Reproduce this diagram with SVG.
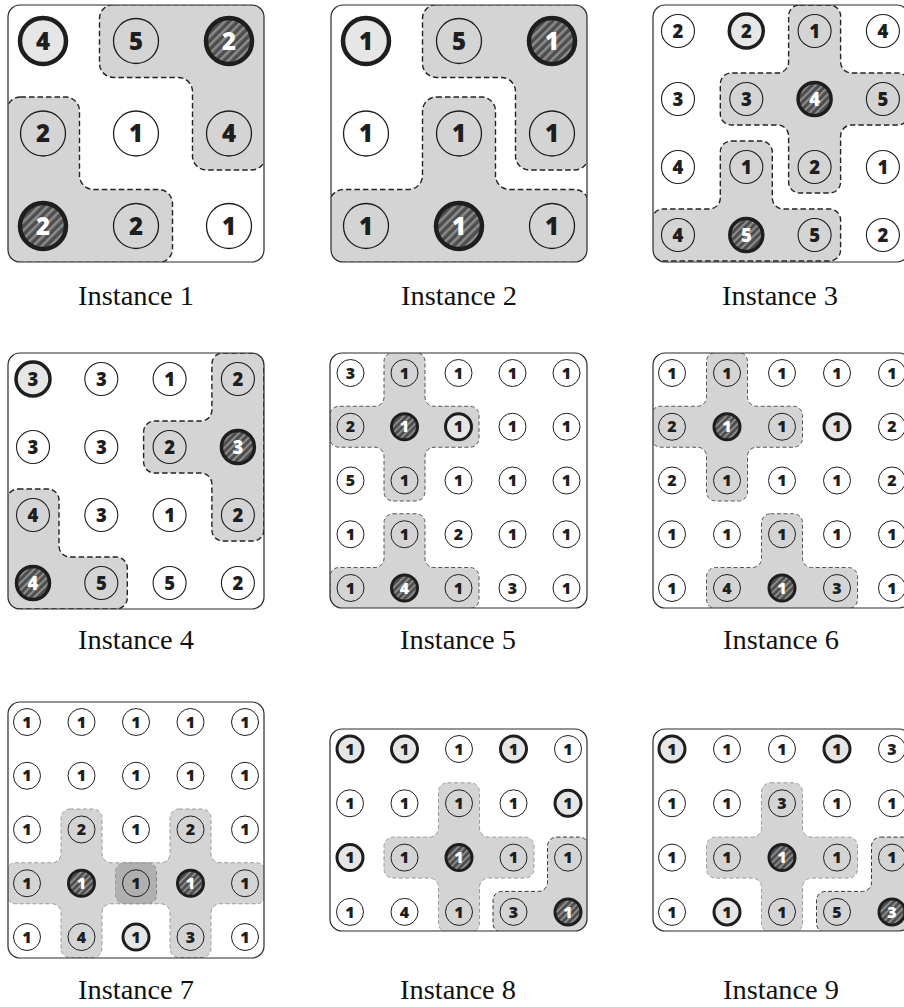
<svg xmlns="http://www.w3.org/2000/svg" width="904" height="1007" viewBox="0 0 904 1007">
<style>
.fr{fill:none;stroke:#2a2a2a;stroke-width:1.2}
.rg{fill:#000;fill-opacity:.17;stroke:#222;stroke-width:1.4;stroke-dasharray:5.5 3}
.rg5{stroke:#555;stroke-width:1;stroke-dasharray:4 2.5}
.rgl{stroke:#9a9a9a}
.rgd{stroke:#333}
circle.n{fill:none;stroke:#1e1e1e}
circle.b{fill:#e6e6e6;stroke:#1e1e1e}
circle.h{stroke:#1e1e1e}
.s3 circle.n{stroke-width:1.3}
.s3 circle.b,.s3 circle.h{stroke-width:4.5}
.s3 circle.h{fill:url(#hL)}
.s4 circle.n{stroke-width:1.1}
.s4 circle.b,.s4 circle.h{stroke-width:3.5}
.s4 circle.h{fill:url(#hM)}
.s5 circle.n{stroke-width:1}
.s5 circle.b,.s5 circle.h{stroke-width:3}
.s5 circle.h{fill:url(#hS)}
.s3 text,.s4 text,.s5 text{font-family:"Open Sans","Liberation Sans",sans-serif;font-weight:800;text-anchor:middle;fill:#1e1e1e}
.s3 text{font-size:24px}
.s4 text{font-size:18.5px}
.s5 text{font-size:16px}
.s3 text.w,.s4 text.w,.s5 text.w{fill:#fff}
.lbl{font-family:"Liberation Serif","DejaVu Serif",serif;font-size:27px;fill:#111;text-anchor:middle}
</style>
<defs>
<pattern id="hL" width="6" height="6" patternUnits="userSpaceOnUse" patternTransform="rotate(45)"><rect width="6" height="6" fill="#4e4e4e"/><rect width="2.5" height="6" fill="#8c8c8c"/></pattern>
<pattern id="hM" width="5" height="5" patternUnits="userSpaceOnUse" patternTransform="rotate(45)"><rect width="5" height="5" fill="#4e4e4e"/><rect width="2" height="5" fill="#8c8c8c"/></pattern>
<pattern id="hS" width="4.5" height="4.5" patternUnits="userSpaceOnUse" patternTransform="rotate(45)"><rect width="4.5" height="4.5" fill="#4e4e4e"/><rect width="1.8" height="4.5" fill="#8c8c8c"/></pattern>
<clipPath id="c1"><rect x="8" y="5" width="256" height="257" rx="12"/></clipPath>
<clipPath id="c2"><rect x="331" y="5" width="256" height="257" rx="12"/></clipPath>
<clipPath id="c3"><rect x="653" y="5" width="256" height="257" rx="12"/></clipPath>
<clipPath id="c4"><rect x="8" y="353" width="256" height="256" rx="12"/></clipPath>
<clipPath id="c5"><rect x="330" y="353" width="257" height="255" rx="12"/></clipPath>
<clipPath id="c6"><rect x="653" y="353" width="258" height="255" rx="12"/></clipPath>
<clipPath id="c7"><rect x="8" y="702" width="256" height="256" rx="12"/></clipPath>
<clipPath id="c8"><rect x="330" y="729" width="257" height="202" rx="12"/></clipPath>
<clipPath id="c9"><rect x="653" y="729" width="258" height="202" rx="12"/></clipPath>
</defs>
<rect width="904" height="1007" fill="#fff"/>

<!-- Instance 1 -->
<g id="inst1" class="s3">
<g id="inst1-regions" clip-path="url(#c1)">
<path class="rg" d="M113.5,4.5 h138 a14,14 0 0 1 14,14 v137.5 a14,14 0 0 1 -14,14 h-45 a14,14 0 0 1 -14,-14 v-64.5 a14,14 0 0 0 -14,-14 h-65 a14,14 0 0 1 -14,-14 v-45 a14,14 0 0 1 14,-14 z"/>
<path class="rg" d="M20.5,97 h45 a14,14 0 0 1 14,14 v64.5 a14,14 0 0 0 14,14 h65 a14,14 0 0 1 14,14 v45 a14,14 0 0 1 -14,14 h-138 a14,14 0 0 1 -14,-14 v-137.5 a14,14 0 0 1 14,-14 z"/>
</g>
<rect class="fr" x="8" y="5" width="256" height="257" rx="12"/>
<g id="i1n00" transform="translate(43,41)"><circle class="b" r="23"/><text y="8.6">4</text></g>
<g id="i1n01" transform="translate(136,41)"><circle class="n" r="22.5"/><text y="8.6">5</text></g>
<g id="i1n02" transform="translate(229,41)"><circle class="h" r="23"/><text class="w" y="8.6">2</text></g>
<g id="i1n10" transform="translate(43,133.5)"><circle class="n" r="22.5"/><text y="8.6">2</text></g>
<g id="i1n11" transform="translate(136,133.5)"><circle class="n" r="22.5"/><text y="8.6">1</text></g>
<g id="i1n12" transform="translate(229,133.5)"><circle class="n" r="22.5"/><text y="8.6">4</text></g>
<g id="i1n20" transform="translate(43,226)"><circle class="h" r="23"/><text class="w" y="8.6">2</text></g>
<g id="i1n21" transform="translate(136,226)"><circle class="n" r="22.5"/><text y="8.6">2</text></g>
<g id="i1n22" transform="translate(229,226)"><circle class="n" r="22.5"/><text y="8.6">1</text></g>
</g>
<text class="lbl" x="136" y="305" textLength="116" lengthAdjust="spacingAndGlyphs">Instance 1</text>

<!-- Instance 2 -->
<g id="inst2" class="s3">
<g id="inst2-regions" clip-path="url(#c2)">
<path class="rg" d="M436.5,4.5 h138 a14,14 0 0 1 14,14 v137.5 a14,14 0 0 1 -14,14 h-45 a14,14 0 0 1 -14,-14 v-64.5 a14,14 0 0 0 -14,-14 h-65 a14,14 0 0 1 -14,-14 v-45 a14,14 0 0 1 14,-14 z"/>
<path class="rg" d="M436.5,97 h45 a14,14 0 0 1 14,14 v64.5 a14,14 0 0 0 14,14 h65 a14,14 0 0 1 14,14 v45 a14,14 0 0 1 -14,14 h-231 a14,14 0 0 1 -14,-14 v-45 a14,14 0 0 1 14,-14 h65 a14,14 0 0 0 14,-14 v-64.5 a14,14 0 0 1 14,-14 z"/>
</g>
<rect class="fr" x="331" y="5" width="256" height="257" rx="12"/>
<g id="i2n00" transform="translate(366,41)"><circle class="b" r="23"/><text y="8.6">1</text></g>
<g id="i2n01" transform="translate(459,41)"><circle class="n" r="22.5"/><text y="8.6">5</text></g>
<g id="i2n02" transform="translate(552,41)"><circle class="h" r="23"/><text class="w" y="8.6">1</text></g>
<g id="i2n10" transform="translate(366,133.5)"><circle class="n" r="22.5"/><text y="8.6">1</text></g>
<g id="i2n11" transform="translate(459,133.5)"><circle class="n" r="22.5"/><text y="8.6">1</text></g>
<g id="i2n12" transform="translate(552,133.5)"><circle class="n" r="22.5"/><text y="8.6">1</text></g>
<g id="i2n20" transform="translate(366,226)"><circle class="n" r="22.5"/><text y="8.6">1</text></g>
<g id="i2n21" transform="translate(459,226)"><circle class="h" r="23"/><text class="w" y="8.6">1</text></g>
<g id="i2n22" transform="translate(552,226)"><circle class="n" r="22.5"/><text y="8.6">1</text></g>
</g>
<text class="lbl" x="459" y="305" textLength="116" lengthAdjust="spacingAndGlyphs">Instance 2</text>

<!-- Instance 3 -->
<g id="inst3" class="s4">
<g id="inst3-regions" clip-path="url(#c3)">
<path class="rg" d="M799.6,5 h30 a11,11 0 0 1 11,11 v46 a11,11 0 0 0 11,11 h46.3 a11,11 0 0 1 11,11 v30 a11,11 0 0 1 -11,11 h-46.3 a11,11 0 0 0 -11,11 v46 a11,11 0 0 1 -11,11 h-30 a11,11 0 0 1 -11,-11 v-46 a11,11 0 0 0 -11,-11 h-46.3 a11,11 0 0 1 -11,-11 v-30 a11,11 0 0 1 11,-11 h46.3 a11,11 0 0 0 11,-11 v-46 a11,11 0 0 1 11,-11 z"/>
<path class="rg" d="M731.3,141 h30 a11,11 0 0 1 11,11 v46 a11,11 0 0 0 11,11 h46.3 a11,11 0 0 1 11,11 v30 a11,11 0 0 1 -11,11 h-166.6 a11,11 0 0 1 -11,-11 v-30 a11,11 0 0 1 11,-11 h46.3 a11,11 0 0 0 11,-11 v-46 a11,11 0 0 1 11,-11 z"/>
</g>
<rect class="fr" x="653" y="5" width="256" height="257" rx="12"/>
<g id="i3n00" transform="translate(678,31)"><circle class="n" r="16.5"/><text y="6.6">2</text></g>
<g id="i3n01" transform="translate(746.3,31)"><circle class="b" r="17"/><text y="6.6">2</text></g>
<g id="i3n02" transform="translate(814.6,31)"><circle class="n" r="16.5"/><text y="6.6">1</text></g>
<g id="i3n03" transform="translate(882.9,31)"><circle class="n" r="16.5"/><text y="6.6">4</text></g>
<g id="i3n10" transform="translate(678,99)"><circle class="n" r="16.5"/><text y="6.6">3</text></g>
<g id="i3n11" transform="translate(746.3,99)"><circle class="n" r="16.5"/><text y="6.6">3</text></g>
<g id="i3n12" transform="translate(814.6,99)"><circle class="h" r="16.5"/><text class="w" y="6.6">4</text></g>
<g id="i3n13" transform="translate(882.9,99)"><circle class="n" r="16.5"/><text y="6.6">5</text></g>
<g id="i3n20" transform="translate(678,167)"><circle class="n" r="16.5"/><text y="6.6">4</text></g>
<g id="i3n21" transform="translate(746.3,167)"><circle class="n" r="16.5"/><text y="6.6">1</text></g>
<g id="i3n22" transform="translate(814.6,167)"><circle class="n" r="16.5"/><text y="6.6">2</text></g>
<g id="i3n23" transform="translate(882.9,167)"><circle class="n" r="16.5"/><text y="6.6">1</text></g>
<g id="i3n30" transform="translate(678,235)"><circle class="n" r="16.5"/><text y="6.6">4</text></g>
<g id="i3n31" transform="translate(746.3,235)"><circle class="h" r="16.5"/><text class="w" y="6.6">5</text></g>
<g id="i3n32" transform="translate(814.6,235)"><circle class="n" r="16.5"/><text y="6.6">5</text></g>
<g id="i3n33" transform="translate(882.9,235)"><circle class="n" r="16.5"/><text y="6.6">2</text></g>
</g>
<text class="lbl" x="780" y="305" textLength="116" lengthAdjust="spacingAndGlyphs">Instance 3</text>

<!-- Instance 4 -->
<g id="inst4" class="s4">
<g id="inst4-regions" clip-path="url(#c4)">
<path class="rg" d="M222.9,353 h30 a11,11 0 0 1 11,11 v166 a11,11 0 0 1 -11,11 h-30 a11,11 0 0 1 -11,-11 v-46 a11,11 0 0 0 -11,-11 h-46.3 a11,11 0 0 1 -11,-11 v-30 a11,11 0 0 1 11,-11 h46.3 a11,11 0 0 0 11,-11 v-46 a11,11 0 0 1 11,-11 z"/>
<path class="rg" d="M18,489 h30 a11,11 0 0 1 11,11 v46 a11,11 0 0 0 11,11 h46.3 a11,11 0 0 1 11,11 v30 a11,11 0 0 1 -11,11 h-98.3 a11,11 0 0 1 -11,-11 v-98 a11,11 0 0 1 11,-11 z"/>
</g>
<rect class="fr" x="8" y="353" width="256" height="256" rx="12"/>
<g id="i4n00" transform="translate(33,379)"><circle class="b" r="17"/><text y="6.6">3</text></g>
<g id="i4n01" transform="translate(101.3,379)"><circle class="n" r="16.5"/><text y="6.6">3</text></g>
<g id="i4n02" transform="translate(169.6,379)"><circle class="n" r="16.5"/><text y="6.6">1</text></g>
<g id="i4n03" transform="translate(237.9,379)"><circle class="n" r="16.5"/><text y="6.6">2</text></g>
<g id="i4n10" transform="translate(33,447)"><circle class="n" r="16.5"/><text y="6.6">3</text></g>
<g id="i4n11" transform="translate(101.3,447)"><circle class="n" r="16.5"/><text y="6.6">3</text></g>
<g id="i4n12" transform="translate(169.6,447)"><circle class="n" r="16.5"/><text y="6.6">2</text></g>
<g id="i4n13" transform="translate(237.9,447)"><circle class="h" r="16.5"/><text class="w" y="6.6">3</text></g>
<g id="i4n20" transform="translate(33,515)"><circle class="n" r="16.5"/><text y="6.6">4</text></g>
<g id="i4n21" transform="translate(101.3,515)"><circle class="n" r="16.5"/><text y="6.6">3</text></g>
<g id="i4n22" transform="translate(169.6,515)"><circle class="n" r="16.5"/><text y="6.6">1</text></g>
<g id="i4n23" transform="translate(237.9,515)"><circle class="n" r="16.5"/><text y="6.6">2</text></g>
<g id="i4n30" transform="translate(33,583)"><circle class="h" r="16.5"/><text class="w" y="6.6">4</text></g>
<g id="i4n31" transform="translate(101.3,583)"><circle class="n" r="16.5"/><text y="6.6">5</text></g>
<g id="i4n32" transform="translate(169.6,583)"><circle class="n" r="16.5"/><text y="6.6">5</text></g>
<g id="i4n33" transform="translate(237.9,583)"><circle class="n" r="16.5"/><text y="6.6">2</text></g>
</g>
<text class="lbl" x="136" y="649" textLength="116" lengthAdjust="spacingAndGlyphs">Instance 4</text>

<!-- Instance 5 -->
<g id="inst5" class="s5">
<g id="inst5-regions" clip-path="url(#c5)">
<path class="rg rg5" d="M393,352.5 h23 a9,9 0 0 1 9,9 v35.75 a9,9 0 0 0 9,9 h36 a9,9 0 0 1 9,9 v23 a9,9 0 0 1 -9,9 h-36 a9,9 0 0 0 -9,9 v35.75 a9,9 0 0 1 -9,9 h-23 a9,9 0 0 1 -9,-9 v-35.75 a9,9 0 0 0 -9,-9 h-36 a9,9 0 0 1 -9,-9 v-23 a9,9 0 0 1 9,-9 h36 a9,9 0 0 0 9,-9 v-35.75 a9,9 0 0 1 9,-9 z"/>
<path class="rg rg5" d="M393,513.75 h23 a9,9 0 0 1 9,9 v35.75 a9,9 0 0 0 9,9 h36 a9,9 0 0 1 9,9 v23 a9,9 0 0 1 -9,9 h-131 a9,9 0 0 1 -9,-9 v-23 a9,9 0 0 1 9,-9 h36 a9,9 0 0 0 9,-9 v-35.75 a9,9 0 0 1 9,-9 z"/>
</g>
<rect class="fr" x="330" y="353" width="257" height="255" rx="12"/>
<g id="i5n00" transform="translate(350.5,373)"><circle class="n" r="13.5"/><text y="5.7">3</text></g>
<g id="i5n01" transform="translate(404.5,373)"><circle class="n" r="13.5"/><text y="5.7">1</text></g>
<g id="i5n02" transform="translate(458.5,373)"><circle class="n" r="13.5"/><text y="5.7">1</text></g>
<g id="i5n03" transform="translate(512.5,373)"><circle class="n" r="13.5"/><text y="5.7">1</text></g>
<g id="i5n04" transform="translate(566.5,373)"><circle class="n" r="13.5"/><text y="5.7">1</text></g>
<g id="i5n10" transform="translate(350.5,426.75)"><circle class="n" r="13.5"/><text y="5.7">2</text></g>
<g id="i5n11" transform="translate(404.5,426.75)"><circle class="h" r="13"/><text class="w" y="5.7">1</text></g>
<g id="i5n12" transform="translate(458.5,426.75)"><circle class="b" r="13"/><text y="5.7">1</text></g>
<g id="i5n13" transform="translate(512.5,426.75)"><circle class="n" r="13.5"/><text y="5.7">1</text></g>
<g id="i5n14" transform="translate(566.5,426.75)"><circle class="n" r="13.5"/><text y="5.7">1</text></g>
<g id="i5n20" transform="translate(350.5,480.5)"><circle class="n" r="13.5"/><text y="5.7">5</text></g>
<g id="i5n21" transform="translate(404.5,480.5)"><circle class="n" r="13.5"/><text y="5.7">1</text></g>
<g id="i5n22" transform="translate(458.5,480.5)"><circle class="n" r="13.5"/><text y="5.7">1</text></g>
<g id="i5n23" transform="translate(512.5,480.5)"><circle class="n" r="13.5"/><text y="5.7">1</text></g>
<g id="i5n24" transform="translate(566.5,480.5)"><circle class="n" r="13.5"/><text y="5.7">1</text></g>
<g id="i5n30" transform="translate(350.5,534.25)"><circle class="n" r="13.5"/><text y="5.7">1</text></g>
<g id="i5n31" transform="translate(404.5,534.25)"><circle class="n" r="13.5"/><text y="5.7">1</text></g>
<g id="i5n32" transform="translate(458.5,534.25)"><circle class="n" r="13.5"/><text y="5.7">2</text></g>
<g id="i5n33" transform="translate(512.5,534.25)"><circle class="n" r="13.5"/><text y="5.7">1</text></g>
<g id="i5n34" transform="translate(566.5,534.25)"><circle class="n" r="13.5"/><text y="5.7">1</text></g>
<g id="i5n40" transform="translate(350.5,588)"><circle class="n" r="13.5"/><text y="5.7">1</text></g>
<g id="i5n41" transform="translate(404.5,588)"><circle class="h" r="13"/><text class="w" y="5.7">4</text></g>
<g id="i5n42" transform="translate(458.5,588)"><circle class="n" r="13.5"/><text y="5.7">1</text></g>
<g id="i5n43" transform="translate(512.5,588)"><circle class="n" r="13.5"/><text y="5.7">3</text></g>
<g id="i5n44" transform="translate(566.5,588)"><circle class="n" r="13.5"/><text y="5.7">1</text></g>
</g>
<text class="lbl" x="458" y="649" textLength="116" lengthAdjust="spacingAndGlyphs">Instance 5</text>

<!-- Instance 6 -->
<g id="inst6" class="s5">
<g id="inst6-regions" clip-path="url(#c6)">
<path class="rg rg5" d="M715.5,352.5 h23 a9,9 0 0 1 9,9 v35.75 a9,9 0 0 0 9,9 h37 a9,9 0 0 1 9,9 v23 a9,9 0 0 1 -9,9 h-37 a9,9 0 0 0 -9,9 v35.75 a9,9 0 0 1 -9,9 h-23 a9,9 0 0 1 -9,-9 v-35.75 a9,9 0 0 0 -9,-9 h-37 a9,9 0 0 1 -9,-9 v-23 a9,9 0 0 1 9,-9 h37 a9,9 0 0 0 9,-9 v-35.75 a9,9 0 0 1 9,-9 z"/>
<path class="rg rg5" d="M770.5,513.75 h23 a9,9 0 0 1 9,9 v35.75 a9,9 0 0 0 9,9 h37 a9,9 0 0 1 9,9 v23 a9,9 0 0 1 -9,9 h-133 a9,9 0 0 1 -9,-9 v-23 a9,9 0 0 1 9,-9 h37 a9,9 0 0 0 9,-9 v-35.75 a9,9 0 0 1 9,-9 z"/>
</g>
<rect class="fr" x="653" y="353" width="258" height="255" rx="12"/>
<g id="i6n00" transform="translate(672,373)"><circle class="n" r="13.5"/><text y="5.7">1</text></g>
<g id="i6n01" transform="translate(727,373)"><circle class="n" r="13.5"/><text y="5.7">1</text></g>
<g id="i6n02" transform="translate(782,373)"><circle class="n" r="13.5"/><text y="5.7">1</text></g>
<g id="i6n03" transform="translate(837,373)"><circle class="n" r="13.5"/><text y="5.7">1</text></g>
<g id="i6n04" transform="translate(892,373)"><circle class="n" r="13.5"/><text y="5.7">1</text></g>
<g id="i6n10" transform="translate(672,426.75)"><circle class="n" r="13.5"/><text y="5.7">2</text></g>
<g id="i6n11" transform="translate(727,426.75)"><circle class="h" r="13"/><text class="w" y="5.7">1</text></g>
<g id="i6n12" transform="translate(782,426.75)"><circle class="n" r="13.5"/><text y="5.7">1</text></g>
<g id="i6n13" transform="translate(837,426.75)"><circle class="b" r="13"/><text y="5.7">1</text></g>
<g id="i6n14" transform="translate(892,426.75)"><circle class="n" r="13.5"/><text y="5.7">2</text></g>
<g id="i6n20" transform="translate(672,480.5)"><circle class="n" r="13.5"/><text y="5.7">2</text></g>
<g id="i6n21" transform="translate(727,480.5)"><circle class="n" r="13.5"/><text y="5.7">1</text></g>
<g id="i6n22" transform="translate(782,480.5)"><circle class="n" r="13.5"/><text y="5.7">1</text></g>
<g id="i6n23" transform="translate(837,480.5)"><circle class="n" r="13.5"/><text y="5.7">1</text></g>
<g id="i6n24" transform="translate(892,480.5)"><circle class="n" r="13.5"/><text y="5.7">2</text></g>
<g id="i6n30" transform="translate(672,534.25)"><circle class="n" r="13.5"/><text y="5.7">1</text></g>
<g id="i6n31" transform="translate(727,534.25)"><circle class="n" r="13.5"/><text y="5.7">1</text></g>
<g id="i6n32" transform="translate(782,534.25)"><circle class="n" r="13.5"/><text y="5.7">1</text></g>
<g id="i6n33" transform="translate(837,534.25)"><circle class="n" r="13.5"/><text y="5.7">1</text></g>
<g id="i6n34" transform="translate(892,534.25)"><circle class="n" r="13.5"/><text y="5.7">1</text></g>
<g id="i6n40" transform="translate(672,588)"><circle class="n" r="13.5"/><text y="5.7">1</text></g>
<g id="i6n41" transform="translate(727,588)"><circle class="n" r="13.5"/><text y="5.7">4</text></g>
<g id="i6n42" transform="translate(782,588)"><circle class="h" r="13"/><text class="w" y="5.7">1</text></g>
<g id="i6n43" transform="translate(837,588)"><circle class="n" r="13.5"/><text y="5.7">3</text></g>
<g id="i6n44" transform="translate(892,588)"><circle class="n" r="13.5"/><text y="5.7">1</text></g>
</g>
<text class="lbl" x="781" y="649" textLength="116" lengthAdjust="spacingAndGlyphs">Instance 6</text>

<!-- Instance 7 -->
<g id="inst7" class="s5">
<g id="inst7-regions" clip-path="url(#c7)">
<path class="rg rg5 rgl" d="M70,809 h23 a9,9 0 0 1 9,9 v35.75 a9,9 0 0 0 9,9 h36.5 a9,9 0 0 1 9,9 v23 a9,9 0 0 1 -9,9 h-36.5 a9,9 0 0 0 -9,9 v35.75 a9,9 0 0 1 -9,9 h-23 a9,9 0 0 1 -9,-9 v-35.75 a9,9 0 0 0 -9,-9 h-36.5 a9,9 0 0 1 -9,-9 v-23 a9,9 0 0 1 9,-9 h36.5 a9,9 0 0 0 9,-9 v-35.75 a9,9 0 0 1 9,-9 z"/>
<path class="rg rg5 rgl" d="M179,809 h23 a9,9 0 0 1 9,9 v35.75 a9,9 0 0 0 9,9 h36.5 a9,9 0 0 1 9,9 v23 a9,9 0 0 1 -9,9 h-36.5 a9,9 0 0 0 -9,9 v35.75 a9,9 0 0 1 -9,9 h-23 a9,9 0 0 1 -9,-9 v-35.75 a9,9 0 0 0 -9,-9 h-36.5 a9,9 0 0 1 -9,-9 v-23 a9,9 0 0 1 9,-9 h36.5 a9,9 0 0 0 9,-9 v-35.75 a9,9 0 0 1 9,-9 z"/>
</g>
<rect class="fr" x="8" y="702" width="256" height="256" rx="12"/>
<g id="i7n00" transform="translate(27,722)"><circle class="n" r="13.5"/><text y="5.7">1</text></g>
<g id="i7n01" transform="translate(81.5,722)"><circle class="n" r="13.5"/><text y="5.7">1</text></g>
<g id="i7n02" transform="translate(136,722)"><circle class="n" r="13.5"/><text y="5.7">1</text></g>
<g id="i7n03" transform="translate(190.5,722)"><circle class="n" r="13.5"/><text y="5.7">1</text></g>
<g id="i7n04" transform="translate(245,722)"><circle class="n" r="13.5"/><text y="5.7">1</text></g>
<g id="i7n10" transform="translate(27,775.75)"><circle class="n" r="13.5"/><text y="5.7">1</text></g>
<g id="i7n11" transform="translate(81.5,775.75)"><circle class="n" r="13.5"/><text y="5.7">1</text></g>
<g id="i7n12" transform="translate(136,775.75)"><circle class="n" r="13.5"/><text y="5.7">1</text></g>
<g id="i7n13" transform="translate(190.5,775.75)"><circle class="n" r="13.5"/><text y="5.7">1</text></g>
<g id="i7n14" transform="translate(245,775.75)"><circle class="n" r="13.5"/><text y="5.7">1</text></g>
<g id="i7n20" transform="translate(27,829.5)"><circle class="n" r="13.5"/><text y="5.7">1</text></g>
<g id="i7n21" transform="translate(81.5,829.5)"><circle class="n" r="13.5"/><text y="5.7">2</text></g>
<g id="i7n22" transform="translate(136,829.5)"><circle class="n" r="13.5"/><text y="5.7">1</text></g>
<g id="i7n23" transform="translate(190.5,829.5)"><circle class="n" r="13.5"/><text y="5.7">2</text></g>
<g id="i7n24" transform="translate(245,829.5)"><circle class="n" r="13.5"/><text y="5.7">1</text></g>
<g id="i7n30" transform="translate(27,883.25)"><circle class="n" r="13.5"/><text y="5.7">1</text></g>
<g id="i7n31" transform="translate(81.5,883.25)"><circle class="h" r="13"/><text class="w" y="5.7">1</text></g>
<g id="i7n32" transform="translate(136,883.25)"><circle class="n" r="13.5"/><text y="5.7">1</text></g>
<g id="i7n33" transform="translate(190.5,883.25)"><circle class="h" r="13"/><text class="w" y="5.7">1</text></g>
<g id="i7n34" transform="translate(245,883.25)"><circle class="n" r="13.5"/><text y="5.7">1</text></g>
<g id="i7n40" transform="translate(27,937)"><circle class="n" r="13.5"/><text y="5.7">1</text></g>
<g id="i7n41" transform="translate(81.5,937)"><circle class="n" r="13.5"/><text y="5.7">4</text></g>
<g id="i7n42" transform="translate(136,937)"><circle class="b" r="13"/><text y="5.7">1</text></g>
<g id="i7n43" transform="translate(190.5,937)"><circle class="n" r="13.5"/><text y="5.7">3</text></g>
<g id="i7n44" transform="translate(245,937)"><circle class="n" r="13.5"/><text y="5.7">1</text></g>
</g>
<text class="lbl" x="136" y="999" textLength="116" lengthAdjust="spacingAndGlyphs">Instance 7</text>

<!-- Instance 8 -->
<g id="inst8" class="s5">
<g id="inst8-regions" clip-path="url(#c8)">
<path class="rg rg5 rgl" d="M447.5,782.8 h23 a9,9 0 0 1 9,9 v36.3 a9,9 0 0 0 9,9 h36.5 a9,9 0 0 1 9,9 v23 a9,9 0 0 1 -9,9 h-36.5 a9,9 0 0 0 -9,9 v36.3 a9,9 0 0 1 -9,9 h-23 a9,9 0 0 1 -9,-9 v-36.3 a9,9 0 0 0 -9,-9 h-36.5 a9,9 0 0 1 -9,-9 v-23 a9,9 0 0 1 9,-9 h36.5 a9,9 0 0 0 9,-9 v-36.3 a9,9 0 0 1 9,-9 z"/>
<path class="rg rg5 rgd" d="M556.5,837.1 h23 a9,9 0 0 1 9,9 v77.3 a9,9 0 0 1 -9,9 h-77.5 a9,9 0 0 1 -9,-9 v-23 a9,9 0 0 1 9,-9 h36.5 a9,9 0 0 0 9,-9 v-36.3 a9,9 0 0 1 9,-9 z"/>
</g>
<rect class="fr" x="330" y="729" width="257" height="202" rx="12"/>
<g id="i8n00" transform="translate(350,749)"><circle class="b" r="13"/><text y="5.7">1</text></g>
<g id="i8n01" transform="translate(404.5,749)"><circle class="b" r="13"/><text y="5.7">1</text></g>
<g id="i8n02" transform="translate(459,749)"><circle class="n" r="13.5"/><text y="5.7">1</text></g>
<g id="i8n03" transform="translate(513.5,749)"><circle class="b" r="13"/><text y="5.7">1</text></g>
<g id="i8n04" transform="translate(568,749)"><circle class="n" r="13.5"/><text y="5.7">1</text></g>
<g id="i8n10" transform="translate(350,803.3)"><circle class="n" r="13.5"/><text y="5.7">1</text></g>
<g id="i8n11" transform="translate(404.5,803.3)"><circle class="n" r="13.5"/><text y="5.7">1</text></g>
<g id="i8n12" transform="translate(459,803.3)"><circle class="n" r="13.5"/><text y="5.7">1</text></g>
<g id="i8n13" transform="translate(513.5,803.3)"><circle class="n" r="13.5"/><text y="5.7">1</text></g>
<g id="i8n14" transform="translate(568,803.3)"><circle class="b" r="13"/><text y="5.7">1</text></g>
<g id="i8n20" transform="translate(350,857.6)"><circle class="b" r="13"/><text y="5.7">1</text></g>
<g id="i8n21" transform="translate(404.5,857.6)"><circle class="n" r="13.5"/><text y="5.7">1</text></g>
<g id="i8n22" transform="translate(459,857.6)"><circle class="h" r="13"/><text class="w" y="5.7">1</text></g>
<g id="i8n23" transform="translate(513.5,857.6)"><circle class="n" r="13.5"/><text y="5.7">1</text></g>
<g id="i8n24" transform="translate(568,857.6)"><circle class="n" r="13.5"/><text y="5.7">1</text></g>
<g id="i8n30" transform="translate(350,911.9)"><circle class="n" r="13.5"/><text y="5.7">1</text></g>
<g id="i8n31" transform="translate(404.5,911.9)"><circle class="n" r="13.5"/><text y="5.7">4</text></g>
<g id="i8n32" transform="translate(459,911.9)"><circle class="n" r="13.5"/><text y="5.7">1</text></g>
<g id="i8n33" transform="translate(513.5,911.9)"><circle class="n" r="13.5"/><text y="5.7">3</text></g>
<g id="i8n34" transform="translate(568,911.9)"><circle class="h" r="13"/><text class="w" y="5.7">1</text></g>
</g>
<text class="lbl" x="458" y="999" textLength="116" lengthAdjust="spacingAndGlyphs">Instance 8</text>

<!-- Instance 9 -->
<g id="inst9" class="s5">
<g id="inst9-regions" clip-path="url(#c9)">
<path class="rg rg5 rgl" d="M770.5,782.8 h23 a9,9 0 0 1 9,9 v36.3 a9,9 0 0 0 9,9 h37 a9,9 0 0 1 9,9 v23 a9,9 0 0 1 -9,9 h-37 a9,9 0 0 0 -9,9 v36.3 a9,9 0 0 1 -9,9 h-23 a9,9 0 0 1 -9,-9 v-36.3 a9,9 0 0 0 -9,-9 h-37 a9,9 0 0 1 -9,-9 v-23 a9,9 0 0 1 9,-9 h37 a9,9 0 0 0 9,-9 v-36.3 a9,9 0 0 1 9,-9 z"/>
<path class="rg rg5 rgd" d="M880.5,837.1 h23 a9,9 0 0 1 9,9 v77.3 a9,9 0 0 1 -9,9 h-78 a9,9 0 0 1 -9,-9 v-23 a9,9 0 0 1 9,-9 h37 a9,9 0 0 0 9,-9 v-36.3 a9,9 0 0 1 9,-9 z"/>
</g>
<rect class="fr" x="653" y="729" width="258" height="202" rx="12"/>
<g id="i9n00" transform="translate(672,749)"><circle class="b" r="13"/><text y="5.7">1</text></g>
<g id="i9n01" transform="translate(727,749)"><circle class="n" r="13.5"/><text y="5.7">1</text></g>
<g id="i9n02" transform="translate(782,749)"><circle class="n" r="13.5"/><text y="5.7">1</text></g>
<g id="i9n03" transform="translate(837,749)"><circle class="b" r="13"/><text y="5.7">1</text></g>
<g id="i9n04" transform="translate(892,749)"><circle class="n" r="13.5"/><text y="5.7">3</text></g>
<g id="i9n10" transform="translate(672,803.3)"><circle class="n" r="13.5"/><text y="5.7">1</text></g>
<g id="i9n11" transform="translate(727,803.3)"><circle class="n" r="13.5"/><text y="5.7">1</text></g>
<g id="i9n12" transform="translate(782,803.3)"><circle class="n" r="13.5"/><text y="5.7">3</text></g>
<g id="i9n13" transform="translate(837,803.3)"><circle class="n" r="13.5"/><text y="5.7">1</text></g>
<g id="i9n14" transform="translate(892,803.3)"><circle class="n" r="13.5"/><text y="5.7">1</text></g>
<g id="i9n20" transform="translate(672,857.6)"><circle class="n" r="13.5"/><text y="5.7">1</text></g>
<g id="i9n21" transform="translate(727,857.6)"><circle class="n" r="13.5"/><text y="5.7">1</text></g>
<g id="i9n22" transform="translate(782,857.6)"><circle class="h" r="13"/><text class="w" y="5.7">1</text></g>
<g id="i9n23" transform="translate(837,857.6)"><circle class="n" r="13.5"/><text y="5.7">1</text></g>
<g id="i9n24" transform="translate(892,857.6)"><circle class="n" r="13.5"/><text y="5.7">1</text></g>
<g id="i9n30" transform="translate(672,911.9)"><circle class="n" r="13.5"/><text y="5.7">1</text></g>
<g id="i9n31" transform="translate(727,911.9)"><circle class="b" r="13"/><text y="5.7">1</text></g>
<g id="i9n32" transform="translate(782,911.9)"><circle class="n" r="13.5"/><text y="5.7">1</text></g>
<g id="i9n33" transform="translate(837,911.9)"><circle class="n" r="13.5"/><text y="5.7">5</text></g>
<g id="i9n34" transform="translate(892,911.9)"><circle class="h" r="13"/><text class="w" y="5.7">3</text></g>
</g>
<text class="lbl" x="781" y="999" textLength="116" lengthAdjust="spacingAndGlyphs">Instance 9</text>
</svg>
